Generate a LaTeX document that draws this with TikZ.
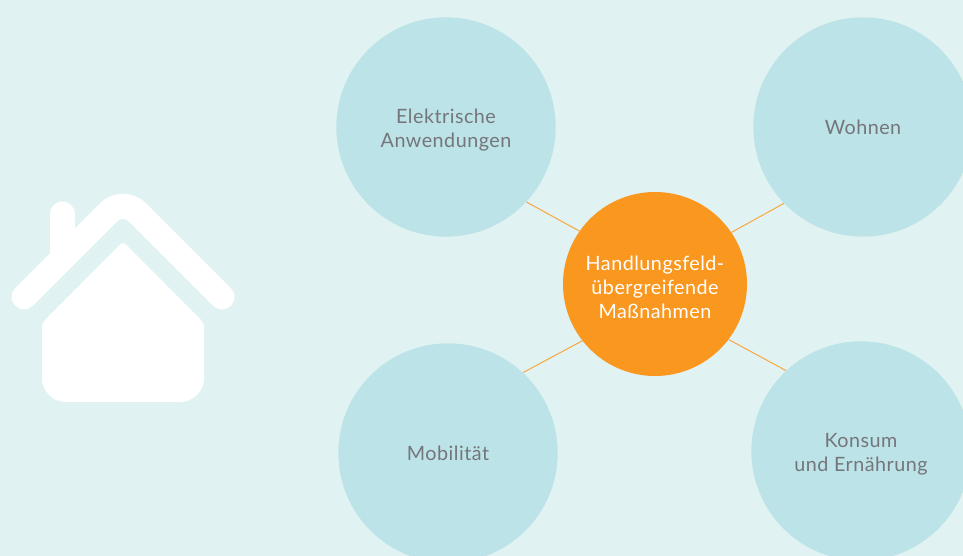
\documentclass[tikz,border=0pt]{standalone}
\usepackage{fontspec}
\setmainfont{Lato}[LetterSpace=2.5]
\usepackage{xcolor}
\usetikzlibrary{positioning}
\definecolor{paleback}{HTML}{E0F2F2}
\definecolor{fieldblue}{HTML}{BCE3E7}
\definecolor{centerorange}{HTML}{F9971F}
\definecolor{labelgray}{HTML}{75767A}
\newcommand{\firstline}{\rule{0pt}{16pt}}
\tikzset{
    field/.style={circle, fill=fieldblue, minimum size=164.5pt, inner sep=0pt, align=center,
        text=labelgray, font=\fontsize{14.8}{18}\selectfont},
    centerfield/.style={circle, fill=centerorange, minimum size=138pt, inner sep=0pt, align=center,
        text=white, font=\fontsize{14.8}{18}\selectfont},
    spoke/.style={draw=centerorange!85, line width=0.75pt}
}

\begin{document}
\begin{tikzpicture}[x=0.75pt,y=-0.75pt]
    \useasboundingbox (0,0) rectangle (963,556);
    \fill[paleback] (0,0) rectangle (963,556);
    % house
    \draw[white, line width=18.75pt, line cap=round] (62,214) -- (62,250);
    \draw[white, line width=18.75pt, line cap=round, rounded corners=15pt] (24,297) -- (123,198) -- (222,297);
    \fill[white, rounded corners=3pt] (42,360) -- (42,323) -- (123,241.5) -- (204,323) [rounded corners=18pt] -- (204,402) -- (42,402) -- cycle;
    % fields
    \node[field] (elektrisch) at (446,127) {\firstline Elektrische\\Anwendungen};
    \node[field] (wohnen) at (863,127) {Wohnen};
    \node[field] (mobil) at (448,453) {Mobilität};
    \node[field] (konsum) at (861,451) {\firstline Konsum\\und Ernährung};
    \node[centerfield] (central) at (655,284) {\firstline Handlungsfeld-\\übergreifende\\Maßnahmen};
    \draw[spoke] (central.145) -- (elektrisch.-43);
    \draw[spoke] (central.34) -- (wohnen.-136);
    \draw[spoke] (central.218) -- (mobil.47);
    \draw[spoke] (central.-37) -- (konsum.133);
\end{tikzpicture}
\end{document}
